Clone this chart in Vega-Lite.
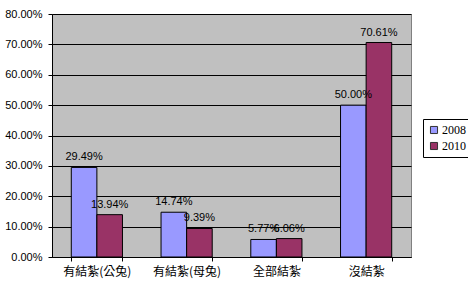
{
  "$schema": "https://vega.github.io/schema/vega-lite/v6.json",
  "autosize": "none",
  "width": 359,
  "height": 243,
  "padding": {"left": 52, "top": 14, "right": 57, "bottom": 26},
  "background": "white",
  "config": {
    "view": {"fill": "#C0C0C0", "stroke": "#808080", "strokeWidth": 1},
    "font": "Liberation Sans"
  },
  "data": {
    "values": [
      {"category": "有結紮(公兔)", "year": "2008", "value": 0.2949},
      {"category": "有結紮(公兔)", "year": "2010", "value": 0.1394},
      {"category": "有結紮(母兔)", "year": "2008", "value": 0.1474},
      {"category": "有結紮(母兔)", "year": "2010", "value": 0.0939},
      {"category": "全部結紮", "year": "2008", "value": 0.0577},
      {"category": "全部結紮", "year": "2010", "value": 0.0606},
      {"category": "沒結紮", "year": "2008", "value": 0.5},
      {"category": "沒結紮", "year": "2010", "value": 0.7061}
    ]
  },
  "encoding": {
    "x": {
      "field": "category",
      "type": "nominal",
      "sort": null,
      "scale": {"paddingInner": 0.43, "paddingOuter": 0.215},
      "axis": {
        "title": null,
        "labelAngle": 0,
        "labelFont": "Noto Sans CJK TC",
        "labelFontSize": 12,
        "labelColor": "black",
        "labelPadding": 5,
        "domainColor": "black",
        "tickColor": "black",
        "tickBand": "extent",
        "tickSize": 4,
        "grid": false
      }
    },
    "xOffset": {"field": "year", "type": "nominal", "scale": {"paddingInner": 0}},
    "y": {
      "field": "value",
      "type": "quantitative",
      "scale": {"domain": [0, 0.8]},
      "axis": {
        "title": null,
        "format": ".2%",
        "values": [0, 0.1, 0.2, 0.3, 0.4, 0.5, 0.6, 0.7, 0.8],
        "labelOverlap": false,
        "labelFlush": false,
        "labelFontSize": 11,
        "labelColor": "black",
        "labelPadding": 6,
        "domainColor": "black",
        "tickColor": "black",
        "tickSize": 4,
        "gridColor": "black",
        "gridWidth": 1
      }
    }
  },
  "layer": [
    {
      "mark": {"type": "bar", "stroke": "black", "strokeWidth": 1},
      "encoding": {
        "color": {
          "field": "year",
          "type": "nominal",
          "scale": {"domain": ["2008", "2010"], "range": ["#9999FF", "#993366"]},
          "legend": {
            "title": null,
            "orient": "none",
            "legendX": 371,
            "legendY": 105,
            "strokeColor": "black",
            "fillColor": "white",
            "padding": 5,
            "symbolType": "square",
            "symbolSize": 50,
            "symbolStrokeColor": "#333333",
            "symbolStrokeWidth": 1,
            "labelFontSize": 12,
            "labelFont": "Liberation Serif",
            "labelColor": "black",
            "labelOffset": 2,
            "rowPadding": 4
          }
        }
      }
    },
    {
      "mark": {"type": "text", "dy": -10, "fontSize": 11, "color": "black"},
      "encoding": {
        "text": {"field": "value", "type": "quantitative", "format": ".2%"}
      }
    }
  ]
}
